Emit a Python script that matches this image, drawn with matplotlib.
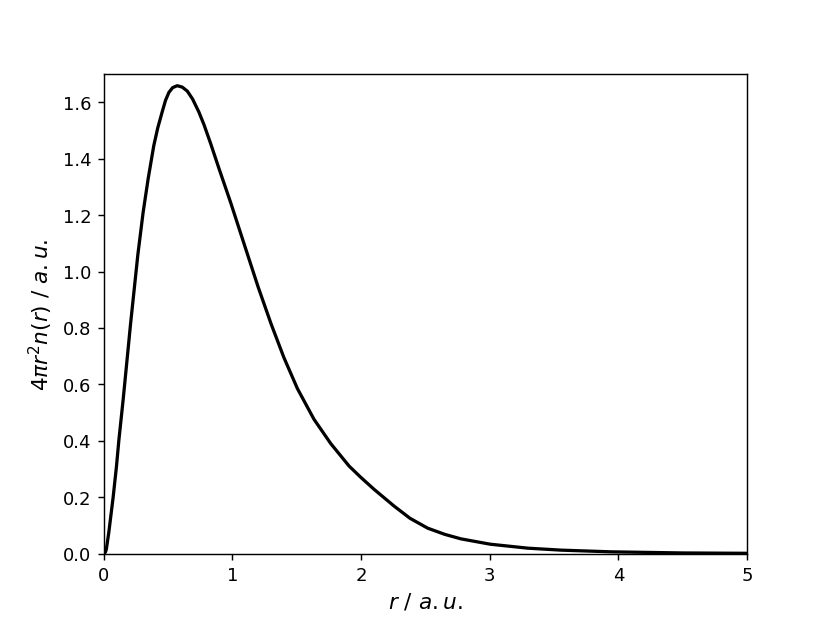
import numpy as np
import matplotlib
matplotlib.use("Agg")
import matplotlib.pyplot as plt

# radial density
r = [0.0, 0.013, 0.02, 0.039, 0.073, 0.099, 0.117, 0.151, 0.208, 0.265,
     0.306, 0.345, 0.389, 0.42, 0.454, 0.48, 0.506, 0.535, 0.571, 0.61,
     0.649, 0.69, 0.739, 0.778, 0.830, 0.895, 0.986, 1.10, 1.20, 1.30, 1.40,
     1.505, 1.634, 1.764, 1.907, 1.998, 2.10, 2.257, 2.38, 2.517, 2.65,
     2.776, 3.004, 3.295, 3.554, 3.943, 4.5, 5.0]
dens = [0.0, 0.005, 0.015, 0.074, 0.2, 0.31, 0.4, 0.547, 0.813, 1.06,
        1.21, 1.329, 1.447, 1.51, 1.566, 1.607, 1.635, 1.652, 1.659, 1.654,
        1.64, 1.612, 1.566, 1.522, 1.455, 1.366, 1.245, 1.085, 0.945, 0.815,
        0.695, 0.585, 0.476, 0.39, 0.31, 0.27, 0.228, 0.168, 0.125, 0.09,
        0.068, 0.052, 0.033, 0.019, 0.012, 0.006, 0.002, 0.0008]

fig, ax = plt.subplots(figsize=(6.4, 4.8), dpi=129.7)
ax.plot(r, dens, color='k', lw=1.8)
ax.set_xlim(0, 5)
ax.set_ylim(0, 1.7)
ax.set_xlabel(r'$r\ /\ a.u.$', fontsize=12)
ax.set_ylabel(r'$4\pi r^2 n(r)\ /\ a.u.$', fontsize=12)

fig.savefig('out.png')
